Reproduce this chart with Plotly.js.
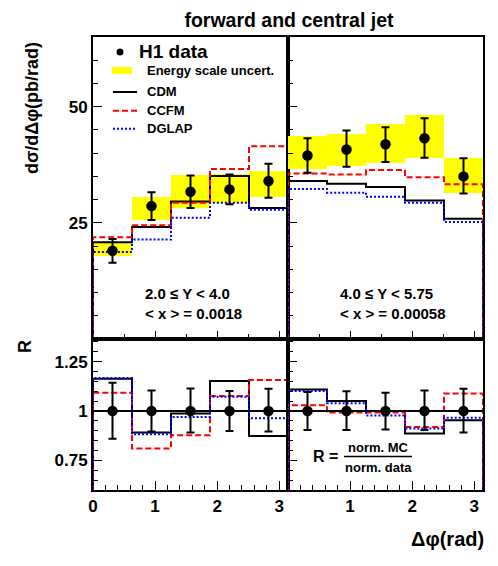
<!DOCTYPE html>
<html>
<head>
<meta charset="utf-8">
<script src="https://cdn.plot.ly/plotly-3.0.1.min.js"></script>
<style>
  body { margin: 0; background: #fff; }
  #plot { width: 498px; height: 566px; }
</style>
</head>
<body>
<div id="plot"></div>
<script>
// bin edges in delta phi (rad), 5 bins of pi/5
const edges = [0, 0.6283, 1.2566, 1.885, 2.5133, 3.1416];

// --- 2.0 <= Y < 4.0 : cross sections (pb/rad)
const dataL = [19.0, 28.6, 31.7, 32.2, 34.0];
const errUpL = [2.5, 3.0, 3.5, 3.2, 3.7];
const errDnL = [2.6, 3.0, 3.5, 3.2, 3.6];
const bandLoL = [17.8, 25.7, 28.1, 29.3, 30.6];
const bandHiL = [20.9, 30.6, 35.4, 35.6, 36.1];
const cdmL = [20.8, 24.1, 29.6, 35.1, 28.2];
const ccfmL = [21.9, 24.5, 29.3, 36.6, 41.5];
const dglapL = [18.75, 21.4, 26.1, 29.3, 27.8];

// --- 4.0 <= Y < 5.75
const dataR = [39.5, 40.8, 41.9, 43.2, 35.0];
const errUpR = [3.7, 4.1, 3.7, 4.3, 3.9];
const errDnR = [3.7, 3.7, 3.8, 4.2, 3.7];
const bandLoR = [36.5, 37.2, 37.9, 39.0, 31.5];
const bandHiR = [43.8, 44.2, 46.3, 48.2, 38.9];
const cdmR = [34.0, 33.4, 32.7, 29.8, 25.9];
const ccfmR = [35.6, 35.4, 36.4, 34.8, 33.3];
const dglapR = [32.3, 31.5, 30.6, 29.3, 25.2];

// --- ratios R = norm. MC / norm. data
const ratioData = [1, 1, 1, 1, 1];
const rErrUpL = [0.143, 0.104, 0.114, 0.101, 0.113];
const rErrDnL = [0.140, 0.104, 0.109, 0.101, 0.104];
const rCdmL = [1.163, 0.891, 0.987, 1.152, 0.874];
const rCcfmL = [1.093, 0.810, 0.877, 1.076, 1.157];
const rDglapL = [1.168, 0.882, 0.970, 1.072, 0.963];

const rErrUpR = [0.096, 0.100, 0.093, 0.104, 0.113];
const rErrDnR = [0.096, 0.096, 0.093, 0.096, 0.109];
const rCdmR = [1.109, 1.051, 1.000, 0.886, 0.953];
const rCcfmR = [1.029, 0.992, 0.992, 0.919, 1.089];
const rDglapR = [1.101, 1.040, 0.978, 0.912, 0.966];

const centers = edges.slice(0, -1).map((e, i) => (e + edges[i + 1]) / 2);
const widths = edges.slice(0, -1).map((e, i) => edges[i + 1] - e);

// histogram outline, dropping to zero at both ends
function step(vals) {
  const x = [edges[0]].concat(edges);
  const y = [0].concat(vals, [vals[vals.length - 1], 0]);
  x.push(edges[edges.length - 1]);
  return { x: x, y: y };
}

const lineStyles = {
  cdm: { color: 'black', width: 2 },
  ccfm: { color: '#ff0000', width: 2, dash: '6px,3px' },
  dglap: { color: '#0000ff', width: 2, dash: '2px,2px' }
};

function panel(xa, ya, lo, hi, data, up, dn, cdm, ccfm, dglap) {
  const traces = [];
  if (lo) {
    traces.push({
      type: 'bar', x: centers, base: lo, y: hi.map((h, i) => h - lo[i]),
      width: widths, marker: { color: '#ffff00', line: { width: 0 } },
      xaxis: xa, yaxis: ya, hoverinfo: 'skip'
    });
  }
  [[cdm, lineStyles.cdm], [ccfm, lineStyles.ccfm], [dglap, lineStyles.dglap]].forEach(([v, ls]) => {
    const s = step(v);
    traces.push({
      type: 'scatter', mode: 'lines', x: s.x, y: s.y,
      line: Object.assign({ shape: 'hv' }, ls), xaxis: xa, yaxis: ya
    });
  });
  traces.push({
    type: 'scatter', mode: 'markers', x: centers, y: data,
    marker: { color: 'black', size: 10.5 },
    error_y: { type: 'data', symmetric: false, array: up, arrayminus: dn,
               color: 'black', thickness: 2, width: 4 },
    xaxis: xa, yaxis: ya
  });
  return traces;
}

const traces = [].concat(
  panel('x', 'y', bandLoL, bandHiL, dataL, errUpL, errDnL, cdmL, ccfmL, dglapL),
  panel('x2', 'y2', bandLoR, bandHiR, dataR, errUpR, errDnR, cdmR, ccfmR, dglapR),
  panel('x3', 'y3', null, null, ratioData, rErrUpL, rErrDnL, rCdmL, rCcfmL, rDglapL),
  panel('x4', 'y4', null, null, ratioData, rErrUpR, rErrDnR, rCdmR, rCcfmR, rDglapR)
);

// pixel -> paper helpers (plot area 93..483 x 37..490)
const L = 93, R = 483, T = 37, B = 490;
const px = v => (v - L) / (R - L);
const py = v => (B - v) / (B - T);

const baseX = {
  range: [0, Math.PI], showline: true, linewidth: 2, linecolor: 'black', mirror: true,
  ticks: 'inside', tickcolor: 'black', tickwidth: 1, showgrid: false, zeroline: false
};
const topX = Object.assign({}, baseX, {
  tickvals: [0, 1, 2, 3], ticklen: 8, showticklabels: false,
  minor: { dtick: 0.5, tick0: 0, ticklen: 5, ticks: 'inside', tickcolor: 'black' }
});
const botX = Object.assign({}, baseX, {
  ticklen: 9,
  minor: { dtick: 0.2, tick0: 0, ticklen: 5, ticks: 'inside', tickcolor: 'black' }
});
const baseY = {
  showline: true, linewidth: 2, linecolor: 'black', mirror: true,
  ticks: 'inside', tickcolor: 'black', tickwidth: 1, showgrid: false, zeroline: false
};
const topY = Object.assign({}, baseY, {
  range: [0, 65], tickvals: [25, 50], ticklen: 9, domain: [1 / 3, 1],
  minor: { dtick: 5, tick0: 0, ticklen: 5, ticks: 'inside', tickcolor: 'black' }
});
const botY = Object.assign({}, baseY, {
  range: [0.6, 1.365], tickvals: [0.75, 1, 1.25], ticktext: ['0.75', '1', '1.25'],
  ticklen: 9, domain: [0, 1 / 3],
  minor: { dtick: 0.05, tick0: 0.6, ticklen: 5, ticks: 'inside', tickcolor: 'black' }
});

const bold = (size) => ({ family: 'Liberation Sans, Arial, sans-serif', size: size, color: 'black', weight: 'bold' });

function txt(x, y, text, size, extra) {
  return Object.assign({
    xref: 'paper', yref: 'paper', x: px(x), y: py(y), text: text,
    showarrow: false, font: bold(size), xanchor: 'center', yanchor: 'middle'
  }, extra || {});
}

const annotations = [
  txt(32, 108, 'dσ/dΔφ(pb/rad)', 18, { textangle: -90 }),
  txt(25, 347, 'R', 18, { textangle: -90 }),
  txt(447, 539, 'Δφ(rad)', 20),
  txt(137, 52, 'H1 data', 19, { xanchor: 'left' }),
  txt(145, 70.5, 'Energy scale uncert.', 13, { xanchor: 'left' }),
  txt(145, 92, 'CDM', 13, { xanchor: 'left' }),
  txt(145, 110.7, 'CCFM', 13, { xanchor: 'left' }),
  txt(145, 128.7, 'DGLAP', 13, { xanchor: 'left' }),
  txt(143, 293, '2.0 ≤ Y &lt; 4.0', 15, { xanchor: 'left' }),
  txt(143, 313, '&lt; x &gt; = 0.0018', 15, { xanchor: 'left' }),
  txt(338, 293, '4.0 ≤ Y &lt; 5.75', 15, { xanchor: 'left' }),
  txt(338, 313, '&lt; x &gt; = 0.00058', 15, { xanchor: 'left' }),
  txt(325, 456, 'R =', 16),
  txt(378, 447, 'norm. MC', 13),
  txt(378, 467, 'norm. data', 13)
];

function pshape(type, x0, y0, x1, y1, extra) {
  return Object.assign({ type: type, xref: 'paper', yref: 'paper',
    x0: px(x0), x1: px(x1), y0: py(y0), y1: py(y1) }, extra);
}

const shapes = [
  // R = 1 reference lines
  { type: 'line', xref: 'x3 domain', yref: 'y3', x0: 0, x1: 1, y0: 1, y1: 1, line: { color: 'black', width: 2 } },
  { type: 'line', xref: 'x4 domain', yref: 'y4', x0: 0, x1: 1, y0: 1, y1: 1, line: { color: 'black', width: 2 } },
  // legend symbols
  pshape('circle', 116.5, 48.5, 123.5, 55.5, { fillcolor: 'black', line: { width: 0 } }),
  pshape('rect', 112, 67, 132, 74, { fillcolor: '#ffff00', line: { width: 0 } }),
  pshape('line', 113, 92, 137, 92, { line: lineStyles.cdm }),
  pshape('line', 113, 110.7, 137, 110.7, { line: lineStyles.ccfm }),
  pshape('line', 113, 128.7, 137, 128.7, { line: lineStyles.dglap }),
  // fraction bar
  pshape('line', 344, 456.5, 412, 456.5, { line: { color: 'black', width: 1.5 } })
];

const layout = {
  width: 498, height: 566,
  margin: { l: L, r: 498 - R, t: T, b: 566 - B },
  paper_bgcolor: 'white', plot_bgcolor: 'white',
  showlegend: false,
  barmode: 'overlay', bargap: 0,
  font: bold(17),
  title: { text: 'forward and central jet', font: bold(19.5), x: 289 / 498, xref: 'container',
           y: 1 - 20 / 566, yref: 'container', xanchor: 'center', yanchor: 'middle' },
  xaxis: Object.assign({}, topX, { domain: [0, 0.5], anchor: 'y' }),
  xaxis2: Object.assign({}, topX, { domain: [0.5, 1], anchor: 'y2' }),
  xaxis3: Object.assign({}, botX, { domain: [0, 0.5], anchor: 'y3', tickvals: [0, 1, 2, 3] }),
  xaxis4: Object.assign({}, botX, { domain: [0.5, 1], anchor: 'y4', tickvals: [1, 2, 3] }),
  yaxis: Object.assign({}, topY, { anchor: 'x' }),
  yaxis2: Object.assign({}, topY, { anchor: 'x2', showticklabels: false }),
  yaxis3: Object.assign({}, botY, { anchor: 'x3' }),
  yaxis4: Object.assign({}, botY, { anchor: 'x4', showticklabels: false }),
  annotations: annotations,
  shapes: shapes
};

Plotly.newPlot('plot', traces, layout, { staticPlot: true, displayModeBar: false });
</script>
</body>
</html>
